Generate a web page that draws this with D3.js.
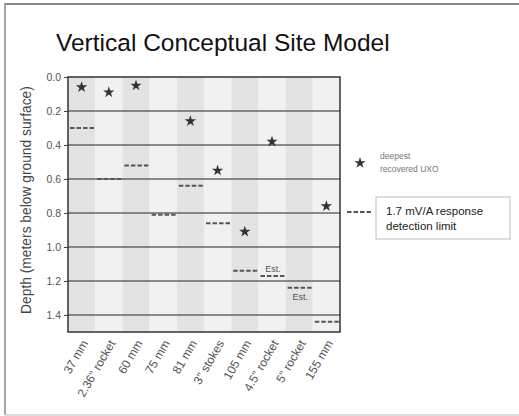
<!DOCTYPE html>
<html>
<head>
<meta charset="utf-8">
<script src="https://cdn.jsdelivr.net/npm/d3@7"></script>
<style>
  body { margin: 0; background: #fff; }
  svg { display: block; font-family: "Liberation Sans", Arial, sans-serif; }
  .narrow { font-family: "Liberation Sans Narrow", "Liberation Sans", Arial, sans-serif; }
</style>
</head>
<body>
<svg id="chart" width="519" height="416"></svg>
<script>
var categories = ["37 mm", "2.36\" rocket", "60 mm", "75 mm", "81 mm",
    "3\" stokes", "105 mm", "4.5\" rocket", "5\" rocket", "155 mm"];
// deepest recovered UXO (m), null = none shown
var deepestUXO = [0.06, 0.09, 0.05, null, 0.26, 0.55, 0.91, 0.38, null, 0.76];
// 1.7 mV/A response detection limit (m)
var detectionLimit = [0.30, 0.60, 0.52, 0.81, 0.64, 0.86, 1.14, 1.17, 1.24, 1.44];
var estimated = ["4.5\" rocket", "5\" rocket"];
var depthTicks = [0.0, 0.2, 0.4, 0.6, 0.8, 1.0, 1.2, 1.4];

var svg = d3.select("#chart"),
    width = +svg.attr("width"),
    height = +svg.attr("height"),
    margin = { top: 77, right: 179, bottom: 84, left: 68 };

// outer frame
svg.append("line").attr("x1", 5).attr("x2", width).attr("y1", 4).attr("y2", 4)
    .attr("stroke", "#8a8a8a").attr("stroke-width", 2);
svg.append("line").attr("x1", 5).attr("x2", 5).attr("y1", 3).attr("y2", 415)
    .attr("stroke", "#8a8a8a").attr("stroke-width", 1.5);
svg.append("line").attr("x1", 5).attr("x2", width).attr("y1", 415).attr("y2", 415)
    .attr("stroke", "#cfcfcf").attr("stroke-width", 1.5);

svg.append("text")
    .attr("x", 56).attr("y", 51)
    .attr("font-size", 24.5).attr("fill", "#111")
    .text("Vertical Conceptual Site Model");

var x = d3.scaleBand()
    .domain(categories)
    .range([margin.left, width - margin.right]);

var y = d3.scaleLinear()
    .domain([0, 1.5])
    .range([margin.top, height - margin.bottom]);

// column shading
svg.append("g")
    .selectAll("rect")
    .data(categories)
    .enter().append("rect")
    .attr("x", function (d) { return x(d); })
    .attr("y", y(0))
    .attr("width", x.bandwidth())
    .attr("height", y(1.5) - y(0))
    .attr("fill", function (d, i) { return i % 2 ? "#f1f1f1" : "#e3e3e3"; });

// grid lines
svg.append("g")
    .selectAll("line")
    .data(depthTicks.slice(1))
    .enter().append("line")
    .attr("x1", x.range()[0]).attr("x2", x.range()[1])
    .attr("y1", function (d) { return y(d); })
    .attr("y2", function (d) { return y(d); })
    .attr("stroke", "#666").attr("stroke-width", 1.3);

// y axis
var yAxis = svg.append("g")
    .attr("transform", "translate(" + margin.left + ",0)")
    .call(d3.axisLeft(y).tickValues(depthTicks).tickFormat(d3.format(".1f")).tickSize(4).tickPadding(3));
yAxis.select(".domain").remove();
yAxis.selectAll("line").attr("stroke", "#444");
yAxis.selectAll("text").attr("font-size", 10.5).attr("fill", "#555")
    .attr("font-family", "\"Liberation Sans Narrow\", \"Liberation Sans\", Arial, sans-serif");

svg.append("text")
    .attr("transform", "translate(31,200) rotate(-90)")
    .attr("text-anchor", "middle")
    .attr("font-size", 13.8).attr("fill", "#444")
    .text("Depth (meters below ground surface)");

// x labels
svg.append("g")
    .selectAll("text")
    .data(categories)
    .enter().append("text")
    .attr("class", "narrow")
    .attr("transform", function (d) {
        return "translate(" + (x(d) + x.bandwidth() / 2 + 7) + "," + (y(1.5) + 11) + ") rotate(-60)";
    })
    .attr("text-anchor", "end")
    .attr("font-size", 12).attr("fill", "#555")
    .text(function (d) { return d; });

// detection limit dashes
var dash = "4.5,2";
svg.append("g")
    .selectAll("line")
    .data(categories)
    .enter().append("line")
    .attr("x1", function (d) { return x(d) + 2; })
    .attr("x2", function (d) { return x(d) + 2 + 24; })
    .attr("y1", function (d, i) { return y(detectionLimit[i]); })
    .attr("y2", function (d, i) { return y(detectionLimit[i]); })
    .attr("stroke", "#555").attr("stroke-width", 2)
    .attr("stroke-dasharray", dash);

// "Est." labels
svg.append("g")
    .selectAll("text")
    .data(estimated)
    .enter().append("text")
    .attr("class", "narrow")
    .attr("x", function (d) { return x(d) + x.bandwidth() / 2 + 1; })
    .attr("y", function (d, i) {
        var v = detectionLimit[categories.indexOf(d)];
        return i % 2 ? y(v) + 12 : y(v) - 4;
    })
    .attr("text-anchor", "middle")
    .attr("font-size", 9).attr("fill", "#555")
    .text("Est.");

// deepest recovered UXO stars
var star = d3.symbol().type(d3.symbolStar).size(40);
svg.append("g")
    .selectAll("path")
    .data(categories.filter(function (d, i) { return deepestUXO[i] != null; }))
    .enter().append("path")
    .attr("transform", function (d) {
        return "translate(" + (x(d) + x.bandwidth() / 2) + "," + y(deepestUXO[categories.indexOf(d)]) + ")";
    })
    .attr("d", star)
    .attr("fill", "#333");

// plot border
svg.append("rect")
    .attr("x", x.range()[0]).attr("y", y(0))
    .attr("width", x.range()[1] - x.range()[0])
    .attr("height", y(1.5) - y(0))
    .attr("fill", "none").attr("stroke", "#333").attr("stroke-width", 1.5);

// legend
var lg = svg.append("g");
lg.append("path")
    .attr("transform", "translate(360,163)")
    .attr("d", star)
    .attr("fill", "#333");
lg.append("text").attr("class", "narrow").attr("x", 380).attr("y", 159)
    .attr("font-size", 8.5).attr("fill", "#777").text("deepest");
lg.append("text").attr("class", "narrow").attr("x", 380).attr("y", 172)
    .attr("font-size", 8.5).attr("fill", "#777").text("recovered UXO");

lg.append("line")
    .attr("x1", 347).attr("x2", 371).attr("y1", 212).attr("y2", 212)
    .attr("stroke", "#555").attr("stroke-width", 2)
    .attr("stroke-dasharray", dash);
lg.append("rect")
    .attr("x", 376).attr("y", 197).attr("width", 134).attr("height", 42)
    .attr("fill", "#fff").attr("stroke", "#bdbdbd");
lg.append("text").attr("x", 386).attr("y", 215)
    .attr("font-size", 11.5).attr("fill", "#222").text("1.7 mV/A response");
lg.append("text").attr("x", 386).attr("y", 230)
    .attr("font-size", 11.5).attr("fill", "#222").text("detection limit");
</script>
</body>
</html>
